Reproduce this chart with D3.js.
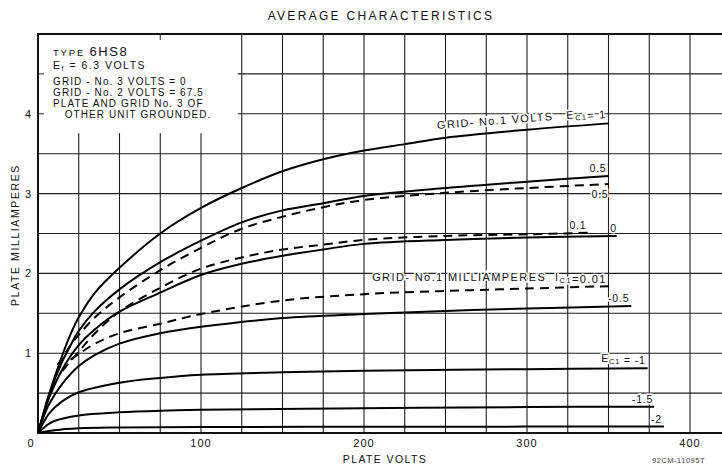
<!DOCTYPE html>
<html>
<head>
<meta charset="utf-8">
<script src="https://cdn.jsdelivr.net/npm/d3@7"></script>
<style>
  body { margin: 0; background: #fff; }
  text { font-family: "Liberation Sans", Arial, sans-serif; fill: #111; }
</style>
</head>
<body>
<script>
const w = 722;
const h = 465;

// Plate volts / plate mA pairs
const ec1Pos1 = [[0,0],[3,0.22],[7,0.5],[15,0.98],[20,1.24],[25,1.45],[35,1.76],[50,2.07],[75,2.5],[100,2.82],[125,3.07],[150,3.28],[175,3.43],[200,3.54],[225,3.62],[250,3.7],[300,3.8],[350,3.88]];
const ec1Pos05 = [[0,0],[3,0.22],[7,0.49],[15,0.9],[20,1.1],[25,1.28],[35,1.53],[50,1.8],[75,2.14],[100,2.41],[125,2.64],[150,2.79],[175,2.88],[200,2.97],[250,3.07],[300,3.15],[350,3.22]];
const ec1Zero = [[0,0],[3,0.21],[7,0.45],[15,0.8],[25,1.1],[35,1.3],[50,1.52],[75,1.76],[100,1.98],[125,2.12],[150,2.22],[175,2.3],[200,2.37],[250,2.42],[300,2.45],[355,2.47]];
const ec1Neg05 = [[0,0],[3,0.18],[7,0.37],[15,0.62],[25,0.84],[35,0.98],[50,1.12],[75,1.25],[100,1.33],[150,1.44],[200,1.49],[250,1.53],[300,1.56],[364,1.59]];
const ec1Neg1 = [[0,0],[3,0.12],[7,0.25],[15,0.4],[25,0.51],[50,0.63],[75,0.69],[100,0.73],[150,0.76],[200,0.78],[300,0.8],[374,0.81]];
const ec1Neg15 = [[0,0],[5,0.09],[10,0.15],[25,0.22],[50,0.26],[75,0.28],[100,0.29],[200,0.31],[300,0.325],[378,0.33]];
const ec1Neg2 = [[0,0],[10,0.035],[25,0.06],[50,0.07],[100,0.075],[200,0.078],[300,0.08],[384,0.08]];

const ic1_05 = [[12,0.85],[20,1.1],[25,1.23],[35,1.45],[50,1.7],[75,2.04],[100,2.32],[125,2.56],[150,2.71],[175,2.83],[200,2.92],[250,3.01],[300,3.07],[350,3.12]];
const ic1_01 = [[15,0.78],[25,1.02],[35,1.25],[50,1.52],[75,1.82],[100,2.06],[125,2.2],[150,2.3],[175,2.36],[200,2.42],[250,2.47],[300,2.49],[340,2.51]];
const ic1_001 = [[20,0.92],[25,0.99],[35,1.12],[50,1.25],[75,1.37],[100,1.49],[150,1.66],[200,1.74],[250,1.78],[300,1.81],[350,1.84]];

const solidCurves = [ec1Pos1, ec1Pos05, ec1Zero, ec1Neg05, ec1Neg1, ec1Neg15, ec1Neg2];
const dashedCurves = [ic1_05, ic1_01, ic1_001];

const xTicks = [0, 100, 200, 300, 400];
const yTicks = [1, 2, 3, 4];

const infoLines = [
  "GRID - No. 3 VOLTS = 0",
  "GRID - No. 2 VOLTS = 67.5",
  "PLATE AND GRID No. 3 OF",
  "   OTHER UNIT GROUNDED."
];

const xScale = d3.scaleLinear().domain([0, 425]).range([38, 38 + 425 * 1.63]);
const yScale = d3.scaleLinear().domain([0, 5]).range([433, 34]);

const svg = d3
  .select("body")
  .append("svg")
  .attr("width", w)
  .attr("height", h)
  .style("display", "block");

// Grid
const grid = svg.append("g").attr("stroke", "#1e1e1e").attr("stroke-width", 1.1);
grid
  .selectAll("line.v")
  .data(d3.range(25, 426, 25))
  .enter()
  .append("line")
  .attr("x1", (d) => xScale(d))
  .attr("x2", (d) => xScale(d))
  .attr("y1", yScale(0))
  .attr("y2", yScale(5));
grid
  .selectAll("line.h")
  .data(d3.range(0.5, 5, 0.5))
  .enter()
  .append("line")
  .attr("x1", xScale(0))
  .attr("x2", xScale(425))
  .attr("y1", (d) => yScale(d))
  .attr("y2", (d) => yScale(d));

// white box for the notes
svg
  .append("rect")
  .attr("x", xScale(0) + 1)
  .attr("y", yScale(5) + 1)
  .attr("width", xScale(122) - xScale(0))
  .attr("height", yScale(3.77) - yScale(5))
  .attr("fill", "#fff");

// little stubs left on the box edges
svg
  .selectAll("line.stub")
  .data([4.5, 4])
  .enter()
  .append("line")
  .attr("x1", xScale(0))
  .attr("x2", xScale(0) + 6)
  .attr("y1", (d) => yScale(d))
  .attr("y2", (d) => yScale(d))
  .attr("stroke", "#222");
svg
  .append("line")
  .attr("x1", xScale(75))
  .attr("x2", xScale(75))
  .attr("y1", yScale(5))
  .attr("y2", yScale(5) + 6)
  .attr("stroke", "#222");

// Axes frame
svg
  .append("path")
  .attr("d", `M${xScale(425)},${yScale(5)}H${xScale(0)}V${yScale(0)}H${xScale(425)}`)
  .attr("fill", "none")
  .attr("stroke", "#111")
  .attr("stroke-width", 2);

// Curves
const line = d3
  .line()
  .x((d) => xScale(d[0]))
  .y((d) => yScale(d[1]))
  .curve(d3.curveCatmullRom.alpha(0.5));

svg
  .selectAll("path.solid")
  .data(solidCurves)
  .enter()
  .append("path")
  .attr("d", line)
  .attr("fill", "none")
  .attr("stroke", "#000")
  .attr("stroke-width", 2);

svg
  .selectAll("path.dash")
  .data(dashedCurves)
  .enter()
  .append("path")
  .attr("d", line)
  .attr("fill", "none")
  .attr("stroke", "#000")
  .attr("stroke-width", 2)
  .attr("stroke-dasharray", "9,6");

// Tick labels
svg
  .selectAll("text.xt")
  .data(xTicks)
  .enter()
  .append("text")
  .attr("x", (d) => (d === 0 ? xScale(d) - 7 : xScale(d)))
  .attr("y", 447)
  .attr("text-anchor", "middle")
  .style("font-size", "11px")
  .style("letter-spacing", "1px")
  .text((d) => d);

svg
  .selectAll("text.yt")
  .data(yTicks)
  .enter()
  .append("text")
  .attr("x", 28)
  .attr("y", (d) => yScale(d) + 4)
  .attr("text-anchor", "middle")
  .style("font-size", "11px")
  .text((d) => d);

// Titles
svg
  .append("text")
  .attr("x", 381)
  .attr("y", 20)
  .attr("text-anchor", "middle")
  .style("font-size", "12px")
  .style("letter-spacing", "2.3px")
  .text("AVERAGE CHARACTERISTICS");

svg
  .append("text")
  .attr("transform", "translate(19, 235) rotate(-90)")
  .attr("text-anchor", "middle")
  .style("font-size", "10.5px")
  .style("letter-spacing", "1.6px")
  .text("PLATE MILLIAMPERES");

svg
  .append("text")
  .attr("x", 385)
  .attr("y", 463)
  .attr("text-anchor", "middle")
  .style("font-size", "10.5px")
  .style("letter-spacing", "1.4px")
  .text("PLATE VOLTS");

svg
  .append("text")
  .attr("x", 705)
  .attr("y", 463)
  .attr("text-anchor", "end")
  .style("font-size", "7.5px")
  .style("letter-spacing", "0.5px")
  .style("fill", "#444")
  .text("92CM-11095T");

// Notes box text
const note = svg.append("g").attr("transform", "translate(53, 0)");
const t1 = note.append("text").attr("y", 56);
t1.append("tspan").style("font-size", "9.5px").style("letter-spacing", "1.8px").text("TYPE ");
t1.append("tspan").style("font-size", "13px").style("letter-spacing", "1.6px").text("6HS8");
const t2 = note.append("text").attr("y", 69).style("font-size", "10.5px").style("letter-spacing", "1.5px");
t2.append("tspan").text("E");
t2.append("tspan").attr("dy", 2).style("font-size", "7px").text("f");
t2.append("tspan").attr("dy", -2).text(" = 6.3 VOLTS");
note
  .selectAll("text.info")
  .data(infoLines)
  .enter()
  .append("text")
  .attr("y", (d, i) => 85 + i * 11)
  .style("font-size", "10px")
  .style("letter-spacing", "1.1px")
  .attr("xml:space", "preserve")
  .text((d) => d);

// Curve labels, with a white halo like the paper
function label(x, y, parts, opts = {}) {
  const t = svg
    .append("text")
    .attr("transform", `translate(${x},${y}) rotate(${opts.rot || 0})`)
    .attr("text-anchor", opts.anchor || "start")
    .style("font-size", opts.size || "10.5px")
    .style("letter-spacing", opts.ls || "0.8px")
    .attr("stroke", "#fff")
    .attr("stroke-width", 3)
    .attr("paint-order", "stroke")
    .attr("xml:space", "preserve");
  parts.forEach((p) => {
    if (typeof p === "object") {
      t.append("tspan").attr("dy", 2).style("font-size", "7.5px").text(p.sub);
      t.append("tspan").attr("dy", -2).text("");
    } else {
      t.append("tspan").text(p);
    }
  });
  return t;
}

label(xScale(245), 129, ["GRID- No.1 VOLTS   E", { sub: "C1" }, "= 1"], { rot: -4.4, size: "11px", ls: "1.3px" });
label(xScale(350) - 2, yScale(3.22) - 4, ["0.5"], { anchor: "end" });
label(xScale(350), yScale(3.12) + 14, ["0.5"], { anchor: "end" });
label(xScale(326), yScale(2.5) - 5, ["0.1"]);
label(xScale(350) + 5, yScale(2.47) - 4, ["0"], { anchor: "middle" });
label(xScale(205), 281, ["GRID- No.1 MILLIAMPERES  I", { sub: "C1" }, "=0.01"], { size: "11px", ls: "1.4px" });
label(xScale(364) - 2, yScale(1.59) - 4, ["-0.5"], { anchor: "end" });
label(xScale(374) - 2, yScale(0.81) - 6, ["E", { sub: "C1" }, " = -1"], { anchor: "end" });
label(xScale(378) - 1, yScale(0.33) - 4, ["-1.5"], { anchor: "end" });
label(xScale(384) - 2, yScale(0.08) - 4, ["-2"], { anchor: "end" });
</script>
</body>
</html>
